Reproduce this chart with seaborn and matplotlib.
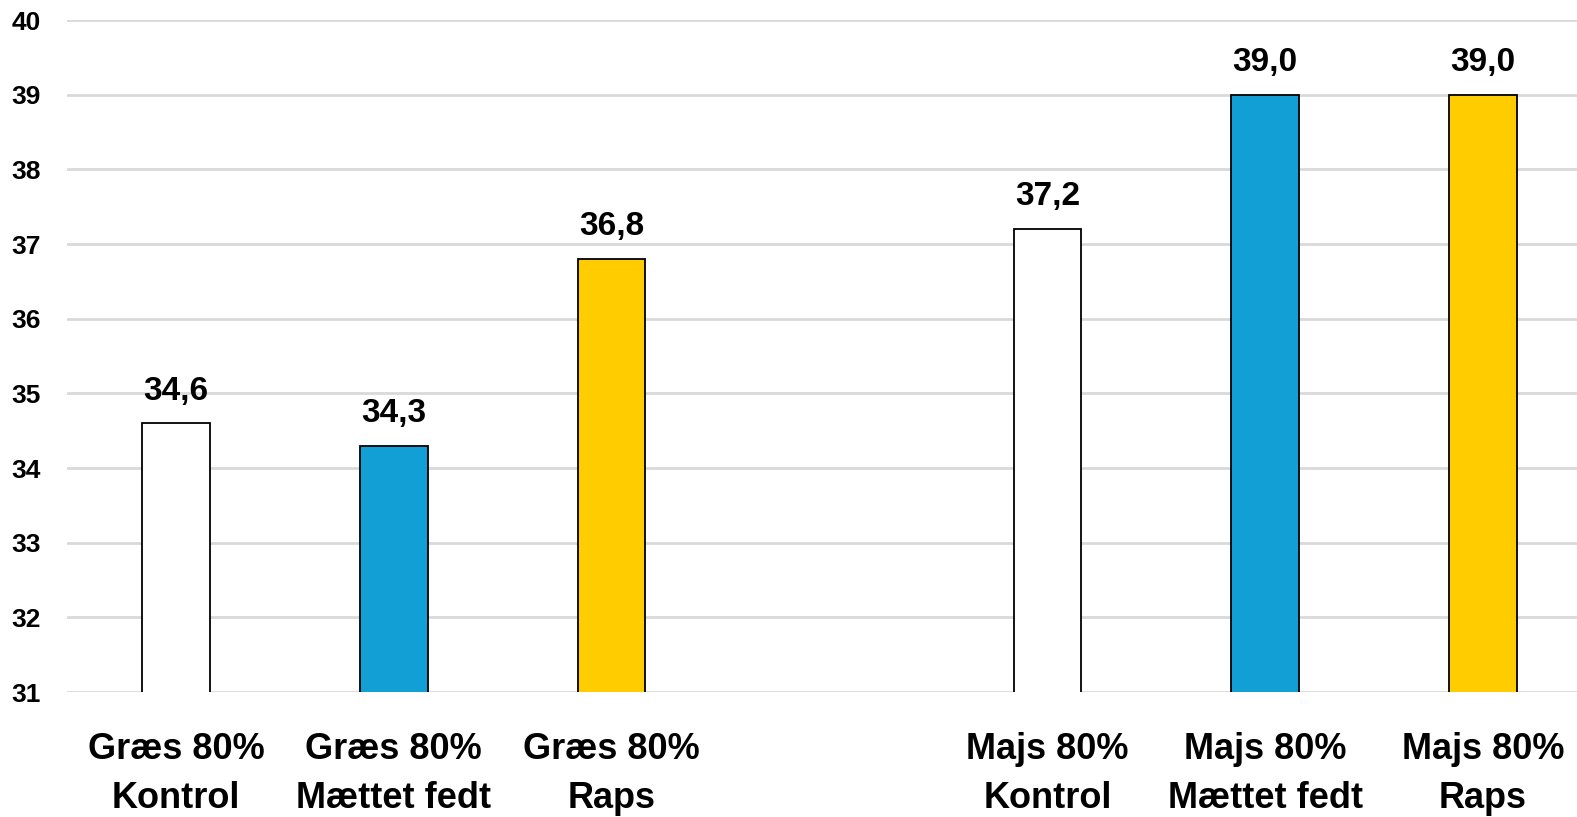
import matplotlib
matplotlib.use("Agg")
import matplotlib.pyplot as plt
import seaborn as sns
import pandas as pd

categories = [
    "Græs 80%\nKontrol",
    "Græs 80%\nMættet fedt",
    "Græs 80%\nRaps",
    " ",
    "Majs 80%\nKontrol",
    "Majs 80%\nMættet fedt",
    "Majs 80%\nRaps",
]
values = [34.6, 34.3, 36.8, None, 37.2, 39.0, 39.0]
bar_colors = ["#FFFFFF", "#129FD6", "#FFCC00", "#FFFFFF", "#FFFFFF", "#129FD6", "#FFCC00"]
y_ticks = [31, 32, 33, 34, 35, 36, 37, 38, 39, 40]

sns.set_theme(style="white")
plt.rcParams["font.family"] = ["Liberation Sans", "DejaVu Sans"]

df = pd.DataFrame({"cat": categories, "val": values})
data = df.dropna()

fig = plt.figure(figsize=(15.77, 8.17), dpi=100)
ax = fig.add_axes([67 / 1577, 125 / 817, 1525 / 1577, 672 / 817])

palette = dict(zip(categories, bar_colors))
sns.barplot(data=data, x="cat", y="val", order=categories, hue="cat",
            palette=palette, legend=False, width=0.31, saturation=1,
            edgecolor="black", linewidth=1.3, ax=ax, zorder=3)

ax.set_ylim(31, 40)
ax.set_xlim(-0.5, 6.5)
ax.set_yticks(y_ticks)
ax.yaxis.grid(True, color="#D9D9D9", linewidth=2, zorder=0)
ax.set_axisbelow(True)
for s in ax.spines.values():
    s.set_visible(False)
ax.set_xlabel("")
ax.set_ylabel("")
ax.tick_params(axis="y", length=0, pad=19)
ax.tick_params(axis="x", length=0, pad=29)
for t in ax.get_yticklabels():
    t.set_fontsize(19)
    t.set_fontweight("bold")
    t.set_color("black")
ax.set_xticks(range(len(categories)))
ax.set_xticklabels(categories, fontsize=26, fontweight="bold",
                   color="black", linespacing=1.5)

for i, v in enumerate(values):
    if v is None:
        continue
    ax.annotate(f"{v:.1f}".replace(".", ","), xy=(i, v), xytext=(0, 17),
                textcoords="offset points", ha="center", va="baseline",
                fontsize=24, fontweight="bold", color="black")

fig.savefig("out.png", dpi=100)
